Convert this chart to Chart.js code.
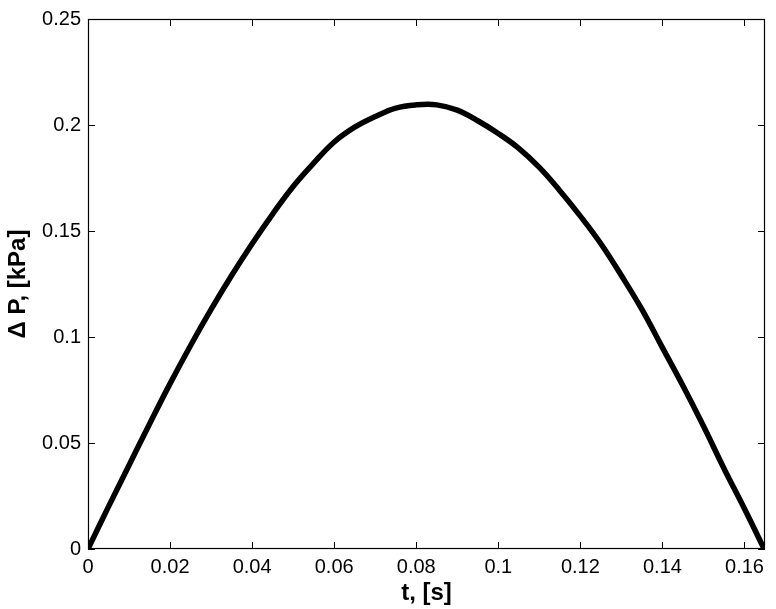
<!DOCTYPE html>
<html>
<head>
<meta charset="utf-8">
<script src="https://cdn.jsdelivr.net/npm/chart.js@4.4.1/dist/chart.umd.min.js"></script>
<style>
  html, body { margin: 0; padding: 0; background: #fff; }
  #wrap { width: 776px; height: 609px; position: relative; }
</style>
</head>
<body>
<div id="wrap"><canvas id="dp"></canvas></div>
<script>
  // readings: time [s] and pressure difference [kPa]
  const tValues = [0, 0.005, 0.010, 0.015, 0.020, 0.025, 0.030, 0.035, 0.040, 0.045, 0.050, 0.055,
    0.060, 0.065, 0.070, 0.075, 0.080, 0.085, 0.090, 0.095, 0.100, 0.105, 0.110, 0.115, 0.120,
    0.125, 0.130, 0.135, 0.140, 0.145, 0.150, 0.155, 0.160, 0.1648];
  const dpValues = [0, 0.020, 0.0395, 0.059, 0.078, 0.096, 0.113, 0.129, 0.144, 0.158, 0.171, 0.182,
    0.192, 0.199, 0.204, 0.208, 0.2095, 0.2095, 0.207, 0.202, 0.196, 0.189, 0.180, 0.169, 0.157,
    0.144, 0.129, 0.113, 0.095, 0.077, 0.058, 0.038, 0.019, 0];
  const xTicks = [0, 0.02, 0.04, 0.06, 0.08, 0.1, 0.12, 0.14, 0.16];
  const yTicks = [0, 0.05, 0.1, 0.15, 0.2, 0.25];

  const FONT = '"Liberation Sans", Arial, Helvetica, sans-serif';
  const fmt = (v) => String(+(+v).toFixed(3));

  // matlab-style box with inward ticks on all four sides
  const boxTicks = {
    id: 'boxTicks',
    afterDraw(chart) {
      const ctx = chart.ctx;
      const a = chart.chartArea;
      const x = chart.scales.x;
      const y = chart.scales.y;
      const len = 7;
      ctx.save();
      ctx.fillStyle = '#000';
      for (const v of xTicks) {
        const px = Math.round(x.getPixelForValue(v));
        ctx.fillRect(px, a.bottom - len, 1, len);
        ctx.fillRect(px, a.top, 1, len);
      }
      for (const v of yTicks) {
        const py = Math.round(y.getPixelForValue(v));
        ctx.fillRect(a.left, py, len, 1);
        ctx.fillRect(a.right - len, py, len, 1);
      }
      ctx.strokeStyle = '#000';
      ctx.lineWidth = 1.2;
      ctx.strokeRect(a.left + 0.5, a.top + 0.5, a.right - a.left - 1, a.bottom - a.top - 1);
      ctx.restore();
    },
  };

  new Chart(document.getElementById('dp'), {
    type: 'line',
    data: {
      datasets: [{
        data: tValues.map((t, i) => ({ x: t, y: dpValues[i] })),
        borderColor: '#000',
        borderWidth: 5.5,
        pointRadius: 0,
        tension: 0.4,
        fill: false,
      }],
    },
    options: {
      responsive: true,
      maintainAspectRatio: false,
      animation: false,
      layout: { padding: { top: 16, right: 11, left: 0, bottom: 0 } },
      plugins: { legend: { display: false }, tooltip: { enabled: false } },
      scales: {
        x: {
          type: 'linear', min: 0, max: 0.165,
          grid: { display: false, drawTicks: false },
          border: { display: false },
          afterFit: (s) => { s.height = 60; },
          afterBuildTicks: (s) => { s.ticks = xTicks.map((v) => ({ value: v })); },
          ticks: { color: '#000', padding: 6, maxRotation: 0, autoSkip: false, callback: fmt, font: { family: FONT, size: 20 } },
          title: { display: true, text: 't, [s]', color: '#000', padding: { top: 0, bottom: 1 }, font: { family: FONT, size: 24, weight: 'bold' } },
        },
        y: {
          type: 'linear', min: 0, max: 0.25,
          grid: { display: false, drawTicks: false },
          border: { display: false },
          afterFit: (s) => { s.width = 88; },
          afterBuildTicks: (s) => { s.ticks = yTicks.map((v) => ({ value: v })); },
          ticks: { color: '#000', padding: 7, autoSkip: false, callback: fmt, font: { family: FONT, size: 20 } },
          title: { display: true, text: '\u0394 P, [kPa]', color: '#000', padding: { top: 4, bottom: 0 }, font: { family: FONT, size: 24, weight: 'bold' } },
        },
      },
    },
    plugins: [boxTicks],
  });
</script>
</body>
</html>
